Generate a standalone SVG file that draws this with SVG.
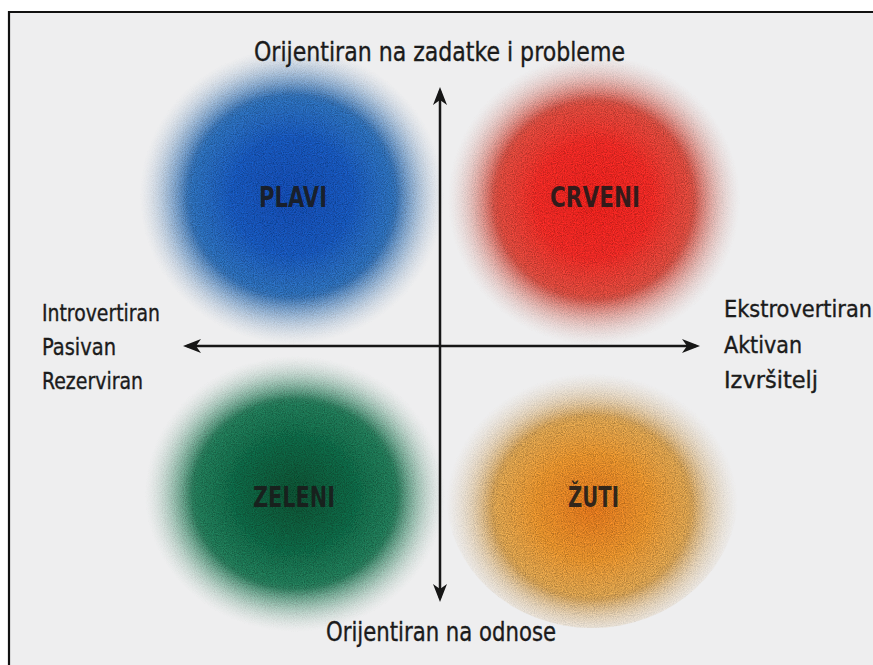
<svg xmlns="http://www.w3.org/2000/svg" width="873" height="665" viewBox="0 0 873 665">
  <style>
    .lbl { font-family: "Liberation Sans Narrow", "DejaVu Sans Condensed", "Liberation Sans", sans-serif; fill: #1b1b1b; stroke: #1b1b1b; stroke-width: 0.35; }
    .axis-txt { font-size: 26px; }
    .side-txt { font-size: 23px; }
    .node-txt { font-size: 29px; font-weight: bold; fill: #1a1a1a; fill-opacity: 0.88; stroke: none; }
    .axis { stroke: #161616; stroke-width: 2.5; fill: none; }
  </style>
  <defs>
    <marker id="arrow" viewBox="0 0 18 14" refX="14" refY="7" markerWidth="18" markerHeight="14" markerUnits="userSpaceOnUse" orient="auto-start-reverse">
      <path d="M0,0 L18,7 L0,14 L5,7 Z" fill="#161616"/>
    </marker>
    <filter id="grain" x="-5%" y="-5%" width="110%" height="110%">
      <feTurbulence type="fractalNoise" baseFrequency="0.9" numOctaves="2" seed="7" result="n"/>
      <feColorMatrix in="n" type="matrix" values="1.2 1.2 1.2 0 -1.3  1.2 1.2 1.2 0 -1.3  1.2 1.2 1.2 0 -1.3  0 0 0 0 1" result="g"/>
      <feComposite in="SourceGraphic" in2="g" operator="arithmetic" k1="0.7" k2="0.7" k3="0" k4="0"/>
    </filter>
    <radialGradient id="gBlue">
      <stop offset="0" stop-color="#1147a8" stop-opacity="1"/>
      <stop offset="0.4" stop-color="#1653b2" stop-opacity="0.98"/>
      <stop offset="0.65" stop-color="#2f74c2" stop-opacity="0.8"/>
      <stop offset="0.82" stop-color="#6d9fd4" stop-opacity="0.4"/>
      <stop offset="1" stop-color="#c8d8ea" stop-opacity="0"/>
    </radialGradient>
    <radialGradient id="gRed">
      <stop offset="0" stop-color="#df1f1b" stop-opacity="1"/>
      <stop offset="0.4" stop-color="#e22823" stop-opacity="0.98"/>
      <stop offset="0.65" stop-color="#e74d40" stop-opacity="0.8"/>
      <stop offset="0.82" stop-color="#ec8f84" stop-opacity="0.4"/>
      <stop offset="1" stop-color="#f2d6d2" stop-opacity="0"/>
    </radialGradient>
    <radialGradient id="gGreen">
      <stop offset="0" stop-color="#084c2f" stop-opacity="1"/>
      <stop offset="0.4" stop-color="#0d6242" stop-opacity="0.98"/>
      <stop offset="0.65" stop-color="#23805c" stop-opacity="0.8"/>
      <stop offset="0.82" stop-color="#6aae92" stop-opacity="0.4"/>
      <stop offset="1" stop-color="#cfe3da" stop-opacity="0"/>
    </radialGradient>
    <radialGradient id="gYellow" cy="0.55">
      <stop offset="0" stop-color="#d5701a" stop-opacity="1"/>
      <stop offset="0.4" stop-color="#de8e2c" stop-opacity="0.95"/>
      <stop offset="0.65" stop-color="#e6aa52" stop-opacity="0.8"/>
      <stop offset="0.82" stop-color="#edc994" stop-opacity="0.4"/>
      <stop offset="1" stop-color="#f2e2cc" stop-opacity="0"/>
    </radialGradient>
  </defs>

  <rect x="0" y="0" width="873" height="665" fill="#ffffff"/>
  <rect x="9" y="12" width="864" height="653" fill="#eeeeef"/>
  <path d="M9,665 L9,12 L873,12" fill="none" stroke="#111" stroke-width="2.2"/>

  <g id="plavi">
    <ellipse cx="292" cy="196" rx="152" ry="148" fill="url(#gBlue)" filter="url(#grain)"/>
    <text class="lbl node-txt" x="259" y="207" textLength="68" lengthAdjust="spacingAndGlyphs">PLAVI</text>
  </g>
  <g id="crveni">
    <ellipse cx="594" cy="200" rx="146" ry="145" fill="url(#gRed)" filter="url(#grain)"/>
    <text class="lbl node-txt" x="550" y="207" textLength="90" lengthAdjust="spacingAndGlyphs">CRVENI</text>
  </g>
  <g id="zeleni">
    <ellipse cx="295" cy="494" rx="150" ry="138" fill="url(#gGreen)" filter="url(#grain)"/>
    <text class="lbl node-txt" x="253" y="507" textLength="82" lengthAdjust="spacingAndGlyphs">ZELENI</text>
  </g>
  <g id="zuti">
    <ellipse cx="592" cy="494" rx="146" ry="134" fill="url(#gYellow)" filter="url(#grain)"/>
    <text class="lbl node-txt" x="568" y="507" textLength="51" lengthAdjust="spacingAndGlyphs">ŽUTI</text>
  </g>

  <g id="connectors">
    <line class="axis" x1="440" y1="598" x2="440" y2="91" marker-start="url(#arrow)" marker-end="url(#arrow)"/>
    <line class="axis" x1="187" y1="346" x2="696" y2="346" marker-start="url(#arrow)" marker-end="url(#arrow)"/>
  </g>

  <g id="axis-labels">
    <text class="lbl axis-txt" x="254" y="61" textLength="371" lengthAdjust="spacingAndGlyphs">Orijentiran na zadatke i probleme</text>
    <text class="lbl axis-txt" x="326" y="641" textLength="230" lengthAdjust="spacingAndGlyphs">Orijentiran na odnose</text>
    <text class="lbl side-txt" x="42" y="321" textLength="118" lengthAdjust="spacingAndGlyphs">Introvertiran</text>
    <text class="lbl side-txt" x="42" y="355" textLength="74" lengthAdjust="spacingAndGlyphs">Pasivan</text>
    <text class="lbl side-txt" x="42" y="389" textLength="101" lengthAdjust="spacingAndGlyphs">Rezerviran</text>
    <text class="lbl side-txt" x="724" y="317" textLength="148" lengthAdjust="spacingAndGlyphs">Ekstrovertiran</text>
    <text class="lbl side-txt" x="724" y="353" textLength="78" lengthAdjust="spacingAndGlyphs">Aktivan</text>
    <text class="lbl side-txt" x="724" y="388" textLength="94" lengthAdjust="spacingAndGlyphs">Izvršitelj</text>
  </g>
</svg>
